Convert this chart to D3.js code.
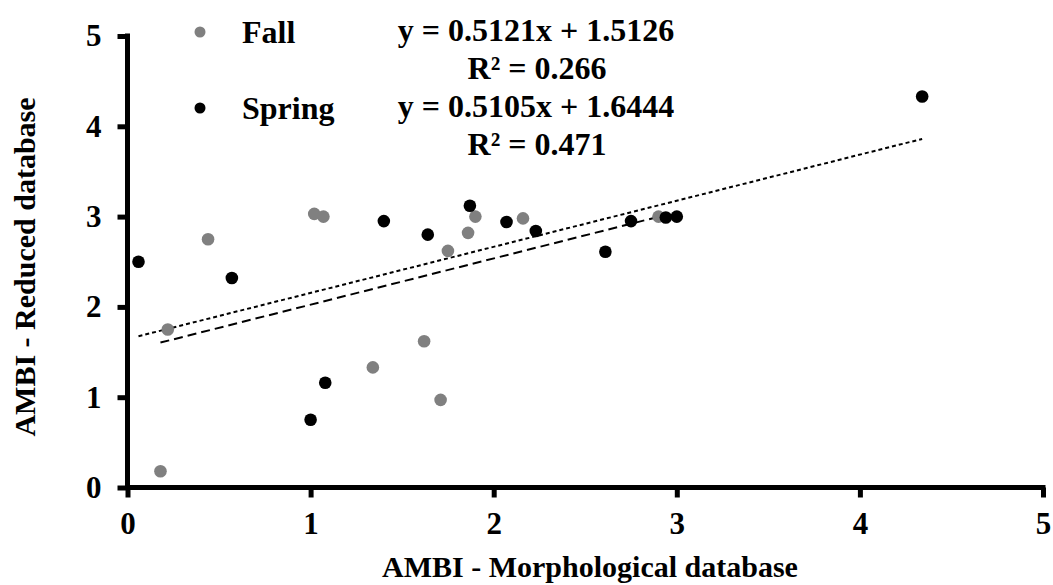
<!DOCTYPE html>
<html>
<head>
<meta charset="utf-8">
<script src="https://cdn.jsdelivr.net/npm/d3@7"></script>
<style>
  html, body { margin: 0; padding: 0; background: #fff; }
  svg { display: block; }
  text { font-family: "Liberation Serif", "Times New Roman", serif; font-weight: bold; fill: #000; }
</style>
</head>
<body>
<svg id="chart" width="1053" height="585"></svg>
<script>
// ---- data ----
const seriesNames = ["Fall", "Spring"];
const fallX   = [0.18, 0.22, 0.44, 1.02, 1.07, 1.34, 1.62, 1.71, 1.75, 1.86, 1.90, 2.16, 2.90];
const fallY   = [0.18, 1.75, 2.75, 3.03, 3.00, 1.33, 1.62, 0.97, 2.62, 2.82, 3.00, 2.98, 3.00];
const springX = [0.06, 0.57, 1.00, 1.08, 1.40, 1.64, 1.87, 2.07, 2.23, 2.61, 2.75, 2.94, 3.00, 4.34];
const springY = [2.50, 2.32, 0.75, 1.16, 2.95, 2.80, 3.12, 2.94, 2.84, 2.61, 2.95, 2.99, 3.00, 4.33];
const slopes     = [0.5121, 0.5105];
const intercepts = [1.5126, 1.6444];
const r2Values   = ["0.266", "0.471"];
const xTicks = [0, 1, 2, 3, 4, 5];
const yTicks = [0, 1, 2, 3, 4, 5];
const xTitle = "AMBI - Morphological database";
const yTitle = "AMBI - Reduced database";

// ---- layout ----
const svg = d3.select("#chart");
const x = d3.scaleLinear().domain([0, 5]).range([127.5, 1043]);
const y = d3.scaleLinear().domain([0, 5]).range([487.5, 36]);
const colors = ["#808080", "#000000"];
const dashes = ["9,5", "4,3"];

const series = [
  { name: seriesNames[0], xs: fallX, ys: fallY, color: colors[0] },
  { name: seriesNames[1], xs: springX, ys: springY, color: colors[1] }
];

// trend lines
series.forEach((s, i) => {
  const [x0, x1] = d3.extent(s.xs);
  const pts = [x0, x1].map(v => [v, slopes[i] * v + intercepts[i]]);
  svg.append("path")
    .attr("d", d3.line().x(d => x(d[0])).y(d => y(d[1]))(pts))
    .attr("fill", "none")
    .attr("stroke", "#000")
    .attr("stroke-width", 2)
    .attr("stroke-dasharray", dashes[i]);
});

// points
series.forEach(s => {
  svg.append("g").selectAll("circle")
    .data(s.xs.map((v, k) => [v, s.ys[k]]))
    .join("circle")
    .attr("cx", d => x(d[0]))
    .attr("cy", d => y(d[1]))
    .attr("r", 6.3)
    .attr("fill", s.color);
});

// axes
const xAxis = svg.append("g")
  .attr("transform", `translate(0,${y(0)})`)
  .call(d3.axisBottom(x).tickValues(xTicks).tickFormat(d3.format("d")).tickSize(10).tickSizeOuter(0).tickPadding(14));
const yAxis = svg.append("g")
  .attr("transform", `translate(${x(0)},0)`)
  .call(d3.axisLeft(y).tickValues(yTicks).tickFormat(d3.format("d")).tickSize(10).tickSizeOuter(0).tickPadding(16));
[xAxis, yAxis].forEach(a => {
  a.select(".domain").attr("stroke", "#000").attr("stroke-width", 5);
  a.selectAll(".tick line").attr("stroke", "#000").attr("stroke-width", 5);
  a.selectAll(".tick text").attr("font-size", 31).attr("font-family", "Liberation Serif, serif").attr("font-weight", "bold").attr("fill", "#000");
});
xAxis.select(".domain").attr("d", `M${x(0) - 2.5},0H${x(5) + 2.5}`);
yAxis.select(".domain").attr("d", `M0,${y(0) + 2.5}V${y(5) - 2.5}`);

// axis titles
svg.append("text").attr("x", 590).attr("y", 577).attr("text-anchor", "middle")
  .attr("font-size", 30).text(xTitle);
svg.append("text").attr("transform", "translate(35,267) rotate(-90)").attr("text-anchor", "middle")
  .attr("font-size", 30).text(yTitle);

// legend
const legendY = [32, 108];
series.forEach((s, i) => {
  svg.append("circle").attr("cx", 200).attr("cy", legendY[i]).attr("r", 5.5).attr("fill", s.color);
  svg.append("text").attr("x", 242).attr("y", legendY[i] + 11).attr("font-size", 32).text(s.name);
  svg.append("text").attr("x", 536).attr("y", legendY[i] + 9).attr("text-anchor", "middle").attr("font-size", 32)
    .text(`y = ${slopes[i]}x + ${intercepts[i]}`);
  svg.append("text").attr("x", 537).attr("y", legendY[i] + 47).attr("text-anchor", "middle").attr("font-size", 32)
    .text(`R² = ${r2Values[i]}`);
});
</script>
</body>
</html>
